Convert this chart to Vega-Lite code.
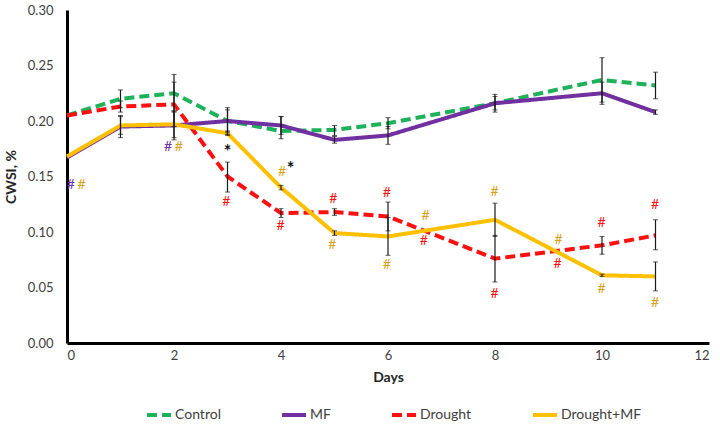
{
  "$schema": "https://vega.github.io/schema/vega-lite/v6.json",
  "width": 642,
  "height": 333,
  "autosize": {"type": "none"},
  "padding": {"left": 67, "top": 10, "right": 11, "bottom": 83},
  "background": "white",
  "config": {
    "view": {"stroke": null},
    "font": "Lato",
    "axis": {"grid": false, "ticks": false, "domainColor": "black", "domainWidth": 3, "labelColor": "#404040", "labelFontSize": 13, "titleColor": "#262626", "titleFontSize": 14, "titleFontWeight": "bold"}
  },
  "datasets": {
    "series": [
      {"day": 0, "group": "Control", "value": 0.205, "lo": null, "hi": null},
      {"day": 1, "group": "Control", "value": 0.220, "lo": 0.212, "hi": 0.228},
      {"day": 2, "group": "Control", "value": 0.225, "lo": 0.208, "hi": 0.242},
      {"day": 3, "group": "Control", "value": 0.200, "lo": 0.188, "hi": 0.212},
      {"day": 4, "group": "Control", "value": 0.191, "lo": 0.184, "hi": 0.204},
      {"day": 5, "group": "Control", "value": 0.192, "lo": 0.187, "hi": 0.196},
      {"day": 6, "group": "Control", "value": 0.198, "lo": 0.193, "hi": 0.203},
      {"day": 8, "group": "Control", "value": 0.216, "lo": 0.208, "hi": 0.224},
      {"day": 10, "group": "Control", "value": 0.237, "lo": 0.217, "hi": 0.257},
      {"day": 11, "group": "Control", "value": 0.232, "lo": 0.220, "hi": 0.244},
      {"day": 0, "group": "MF", "value": 0.167, "lo": null, "hi": null},
      {"day": 1, "group": "MF", "value": 0.195, "lo": 0.185, "hi": 0.205},
      {"day": 2, "group": "MF", "value": 0.196, "lo": 0.183, "hi": 0.209},
      {"day": 3, "group": "MF", "value": 0.200, "lo": 0.190, "hi": 0.210},
      {"day": 4, "group": "MF", "value": 0.196, "lo": 0.188, "hi": 0.204},
      {"day": 5, "group": "MF", "value": 0.183, "lo": 0.180, "hi": 0.186},
      {"day": 6, "group": "MF", "value": 0.187, "lo": 0.179, "hi": 0.195},
      {"day": 8, "group": "MF", "value": 0.216, "lo": 0.210, "hi": 0.222},
      {"day": 10, "group": "MF", "value": 0.225, "lo": 0.215, "hi": 0.235},
      {"day": 11, "group": "MF", "value": 0.208, "lo": 0.206, "hi": 0.210},
      {"day": 0, "group": "Drought", "value": 0.205, "lo": null, "hi": null},
      {"day": 1, "group": "Drought", "value": 0.213, "lo": 0.208, "hi": 0.218},
      {"day": 2, "group": "Drought", "value": 0.215, "lo": 0.195, "hi": 0.235},
      {"day": 3, "group": "Drought", "value": 0.150, "lo": 0.136, "hi": 0.163},
      {"day": 4, "group": "Drought", "value": 0.117, "lo": 0.113, "hi": 0.121},
      {"day": 5, "group": "Drought", "value": 0.118, "lo": 0.115, "hi": 0.121},
      {"day": 6, "group": "Drought", "value": 0.114, "lo": 0.101, "hi": 0.127},
      {"day": 8, "group": "Drought", "value": 0.076, "lo": 0.055, "hi": 0.097},
      {"day": 10, "group": "Drought", "value": 0.088, "lo": 0.080, "hi": 0.096},
      {"day": 11, "group": "Drought", "value": 0.097, "lo": 0.084, "hi": 0.111},
      {"day": 0, "group": "Drought+MF", "value": 0.168, "lo": null, "hi": null},
      {"day": 1, "group": "Drought+MF", "value": 0.196, "lo": 0.188, "hi": 0.204},
      {"day": 2, "group": "Drought+MF", "value": 0.197, "lo": 0.185, "hi": 0.209},
      {"day": 3, "group": "Drought+MF", "value": 0.189, "lo": 0.187, "hi": 0.191},
      {"day": 4, "group": "Drought+MF", "value": 0.140, "lo": 0.138, "hi": 0.142},
      {"day": 5, "group": "Drought+MF", "value": 0.099, "lo": 0.097, "hi": 0.101},
      {"day": 6, "group": "Drought+MF", "value": 0.096, "lo": 0.079, "hi": 0.113},
      {"day": 8, "group": "Drought+MF", "value": 0.111, "lo": 0.096, "hi": 0.126},
      {"day": 10, "group": "Drought+MF", "value": 0.061, "lo": 0.060, "hi": 0.062},
      {"day": 11, "group": "Drought+MF", "value": 0.060, "lo": 0.047, "hi": 0.073}
    ],
    "notes": [
      {"day": 0.07, "value": 0.142, "label": "#", "kind": "MF"},
      {"day": 0.27, "value": 0.142, "label": "#", "kind": "Drought+MF"},
      {"day": 1.89, "value": 0.177, "label": "#", "kind": "MF"},
      {"day": 2.09, "value": 0.177, "label": "#", "kind": "Drought+MF"},
      {"day": 2.98, "value": 0.127, "label": "#", "kind": "Drought"},
      {"day": 4.02, "value": 0.154, "label": "#", "kind": "Drought+MF"},
      {"day": 3.99, "value": 0.105, "label": "#", "kind": "Drought"},
      {"day": 4.98, "value": 0.130, "label": "#", "kind": "Drought"},
      {"day": 4.96, "value": 0.088, "label": "#", "kind": "Drought+MF"},
      {"day": 5.98, "value": 0.135, "label": "#", "kind": "Drought"},
      {"day": 5.98, "value": 0.070, "label": "#", "kind": "Drought+MF"},
      {"day": 6.70, "value": 0.114, "label": "#", "kind": "Drought+MF"},
      {"day": 6.67, "value": 0.092, "label": "#", "kind": "Drought"},
      {"day": 7.99, "value": 0.136, "label": "#", "kind": "Drought+MF"},
      {"day": 7.99, "value": 0.044, "label": "#", "kind": "Drought"},
      {"day": 9.19, "value": 0.093, "label": "#", "kind": "Drought+MF"},
      {"day": 9.17, "value": 0.071, "label": "#", "kind": "Drought"},
      {"day": 9.99, "value": 0.108, "label": "#", "kind": "Drought"},
      {"day": 9.99, "value": 0.049, "label": "#", "kind": "Drought+MF"},
      {"day": 10.99, "value": 0.124, "label": "#", "kind": "Drought"},
      {"day": 10.99, "value": 0.036, "label": "#", "kind": "Drought+MF"}
    ],
    "stars": [
      {"day": 3.0, "value": 0.171, "label": "*"},
      {"day": 4.18, "value": 0.156, "label": "*"}
    ]
  },
  "layer": [
    {
      "data": {"name": "series"},
      "mark": {"type": "line", "strokeWidth": 4, "strokeCap": "butt", "strokeJoin": "round"},
      "encoding": {
        "x": {"field": "day", "type": "quantitative", "scale": {"domain": [0, 12], "nice": false}, "axis": {"values": [0, 2, 4, 6, 8, 10, 12], "format": "d", "title": "Days", "labelPadding": 6, "titlePadding": 8}},
        "y": {"field": "value", "type": "quantitative", "scale": {"domain": [0, 0.3], "nice": false}, "axis": {"values": [0, 0.05, 0.1, 0.15, 0.2, 0.25, 0.3], "format": ".2f", "title": "CWSI, %", "labelPadding": 14, "titlePadding": 9}},
        "color": {"field": "group", "type": "nominal", "scale": {"domain": ["Control", "MF", "Drought", "Drought+MF"], "range": ["#1DB25A", "#7030A0", "#FF1010", "#FFC000"]},
          "legend": {"title": null, "orient": "none", "legendX": 78, "legendY": 391, "direction": "horizontal", "columns": 4, "gridAlign": "none", "columnPadding": 53, "symbolType": "stroke", "symbolSize": 576, "symbolStrokeWidth": 4, "labelFontSize": 14, "labelColor": "#404040", "labelOffset": 2, "labelFont": "Lato"}},
        "strokeDash": {"field": "group", "type": "nominal", "scale": {"domain": ["Control", "MF", "Drought", "Drought+MF"], "range": [[10, 5], [1, 0], [10, 5], [1, 0]]}},
        "order": {"field": "day", "type": "quantitative"}
      }
    },
    {
      "data": {"name": "series"},
      "transform": [{"filter": "datum.lo != null"}],
      "mark": {"type": "errorbar", "color": "#1a1a1a", "ticks": {"size": 5, "strokeWidth": 1.2}, "rule": {"strokeWidth": 1.2}},
      "encoding": {
        "x": {"field": "day", "type": "quantitative", "title": "Days"},
        "y": {"field": "lo", "type": "quantitative", "title": "CWSI, %"},
        "y2": {"field": "hi"}
      }
    },
    {
      "data": {"name": "notes"},
      "mark": {"type": "text", "fontSize": 14, "baseline": "middle", "align": "center", "font": "Lato"},
      "encoding": {
        "x": {"field": "day", "type": "quantitative", "title": "Days"},
        "y": {"field": "value", "type": "quantitative", "title": "CWSI, %"},
        "text": {"field": "label"},
        "fill": {"field": "kind", "type": "nominal", "scale": {"domain": ["MF", "Drought", "Drought+MF"], "range": ["#7030A0", "#FF1010", "#D9A21B"]}, "legend": null}
      }
    },
    {
      "data": {"name": "stars"},
      "mark": {"type": "text", "fontSize": 18, "fontWeight": "bold", "baseline": "middle", "align": "center", "font": "Lato", "color": "#111111"},
      "encoding": {
        "x": {"field": "day", "type": "quantitative", "title": "Days"},
        "y": {"field": "value", "type": "quantitative", "title": "CWSI, %"},
        "text": {"field": "label"}
      }
    }
  ]
}
